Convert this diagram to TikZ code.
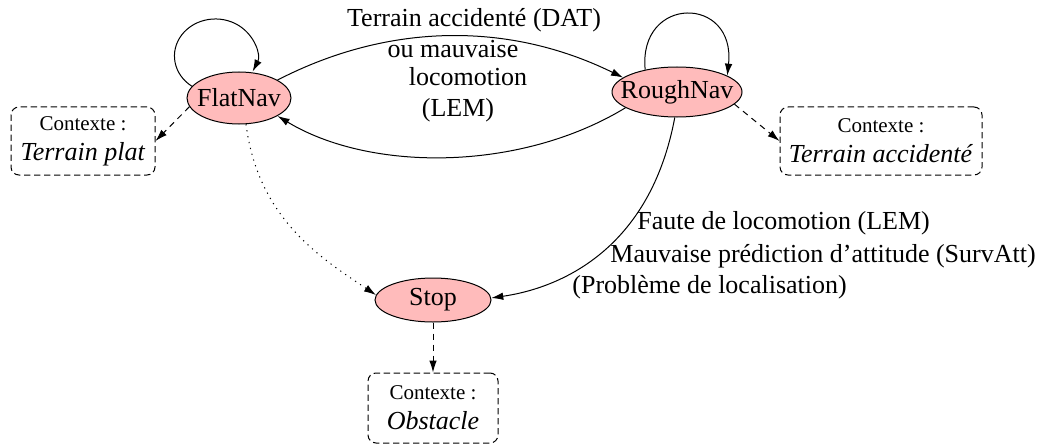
\documentclass[tikz,border=0pt]{standalone}
\usepackage{fontspec}
\setmainfont{Liberation Serif}
\usetikzlibrary{arrows.meta,shapes.geometric}
\definecolor{statepink}{RGB}{255,187,187}
\begin{document}
\begin{tikzpicture}[x=0.5pt,y=-0.5pt,
  >={Latex[length=6pt,width=3.8pt]},
  state/.style={ellipse, draw=black, line width=0.5pt, fill=statepink, inner sep=0pt, font=\fontsize{13}{15}\selectfont},
  ctxbox/.style={draw=black, line width=0.5pt, dash pattern=on 3.2pt off 1.8pt, rounded corners=4pt, align=center, inner sep=0pt, font=\fontsize{13}{15}\selectfont},
  lbl/.style={inner sep=0pt, font=\fontsize{13}{15}\selectfont},
  edge/.style={->, line width=0.5pt},
  ctxarrow/.style={->, line width=0.5pt, dash pattern=on 3pt off 2.5pt},
  dotarrow/.style={->, line width=0.5pt, dash pattern=on 0.6pt off 2.4pt}
]
\useasboundingbox (0,0) rectangle (1037,444);
\newcommand{\ctxsmall}{\fontsize{10.5}{15}\selectfont}

% states
\node[state, minimum width=52pt, minimum height=26pt] (flat) at (239,98) {\makebox[0pt]{FlatNav}};
\node[state, minimum width=65pt, minimum height=25pt] (rough) at (677,92) {\makebox[0pt]{RoughNav}};
\node[state, minimum width=58pt, minimum height=22pt] (stop) at (433,300) {\makebox[0pt]{Stop}};

% context boxes
\node[ctxbox, minimum width=72pt, minimum height=34pt] (c1) at (83,141) {{\ctxsmall Contexte :}\\\textit{Terrain plat}};
\node[ctxbox, minimum width=101pt, minimum height=34pt] (c2) at (881,141) {{\ctxsmall Contexte :}\\\textit{Terrain accidenté}};
\node[ctxbox, minimum width=65pt, minimum height=35pt] (c3) at (433,408) {{\ctxsmall Contexte :}\\\textit{Obstacle}};

% self loops
\draw[edge] (flat.166) arc[start angle=235, end angle=-25, x radius=20.5pt, y radius=18.5pt];
\draw[edge] (rough.145) .. controls (638,-5) and (736,-5) .. (rough.18);

% transitions
\draw[edge] (flat.25) .. controls (390,22) and (510,22) .. (rough.165);
\draw[edge] (rough.197) .. controls (520,172) and (370,172) .. (flat.-25);
\draw[dotarrow] (flat.-75) .. controls (258,220) and (324,260) .. (stop.175);
\draw[edge] (rough.-95) .. controls (650,250) and (560,288) .. (stop.2);

% context arrows
\draw[ctxarrow] (flat.190) -- (c1.east);
\draw[ctxarrow] (rough.-12) -- (c2.west);
\draw[ctxarrow] (stop.south) -- (c3.north);

% labels
\node[lbl, anchor=base] (t1) at (474,27) {Terrain accidenté (DAT)};
\node[lbl, anchor=base] (t2) at (453,58) {ou mauvaise};
\node[lbl, anchor=base] (t3) at (468,85) {locomotion};
\node[lbl, anchor=base] (t4) at (458,117) {(LEM)};
\node[lbl, anchor=base west] (f1) at (637,229) {Faute de locomotion (LEM)};
\node[lbl, anchor=base west] (f2) at (610,262) {Mauvaise prédiction d'attitude (SurvAtt)};
\node[lbl, anchor=base west] (f3) at (572,293) {(Problème de localisation)};
\end{tikzpicture}
\end{document}
